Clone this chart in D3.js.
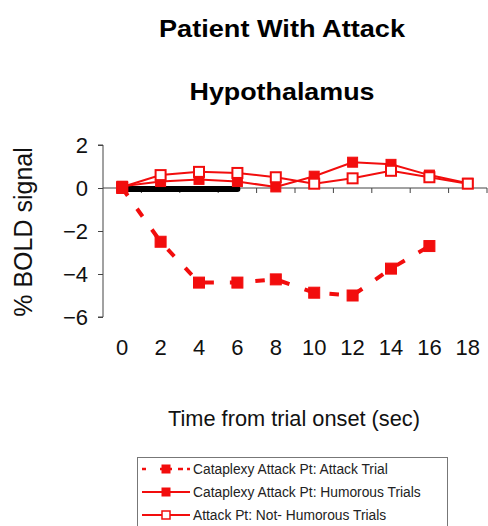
<!DOCTYPE html>
<html>
<head>
<meta charset="utf-8">
<script src="https://cdn.jsdelivr.net/npm/d3@7"></script>
<style>
html,body{margin:0;padding:0;background:#fff;}
svg{display:block;font-family:"Liberation Sans",Arial,sans-serif;}
</style>
</head>
<body>
<svg id="chart" width="488" height="526"></svg>
<script>
const categories = ["0","2","4","6","8","10","12","14","16","18"];
const attackTrial = [0, -2.5, -4.4, -4.4, -4.25, -4.87, -5.0, -3.75, -2.7, null];
const humorousTrials = [0.08, 0.3, 0.4, 0.3, 0.05, 0.55, 1.2, 1.1, 0.6, 0.22];
const notHumorousTrials = [0.05, 0.6, 0.75, 0.7, 0.5, 0.2, 0.45, 0.8, 0.5, 0.2];
const attackDuration = [0, 0, 0, 0];
const yTicks = [2, 0, -2, -4, -6];
const seriesNames = ["Cataplexy Attack Pt: Attack Trial", "Cataplexy Attack Pt: Humorous Trials", "Attack Pt: Not- Humorous Trials"];
const titleText = "Patient With Attack";
const subtitleText = "Hypothalamus";
const yLabel = "% BOLD signal";
const xLabel = "Time from trial onset (sec)";

const red = "#f20d0d";
const svg = d3.select("#chart");

const x = d3.scaleBand().domain(categories).range([103, 487]).padding(0);
const y = d3.scaleLinear().domain([-6, 2]).range([317, 145]);
const cx = c => x(c) + x.bandwidth() / 2;

// titles
svg.append("text").attr("x", 282).attr("y", 37).attr("text-anchor", "middle")
  .attr("font-size", 24).attr("font-weight", "bold").attr("textLength", 246).attr("lengthAdjust","spacingAndGlyphs").text(titleText);
svg.append("text").attr("x", 282).attr("y", 100).attr("text-anchor", "middle")
  .attr("font-size", 24).attr("font-weight", "bold").attr("textLength", 185).attr("lengthAdjust","spacingAndGlyphs").text(subtitleText);

// y axis
const yAxis = svg.append("g").attr("transform", "translate(103,0)")
  .call(d3.axisLeft(y).tickValues(yTicks).tickSize(5).tickPadding(10).tickFormat(d3.format("d")));
yAxis.select(".domain").attr("stroke", "#444").attr("d", `M-5,${y(2)}H0V${y(-6)}H-5`);
yAxis.selectAll(".tick line").attr("stroke", "#444");
yAxis.selectAll(".tick text").attr("font-size", 22).attr("fill", "#111").attr("font-family", "Liberation Sans, Arial, sans-serif");

// x axis line at 0 with boundary ticks
const xg = svg.append("g");
xg.append("line").attr("x1", 103).attr("x2", 487).attr("y1", y(0)).attr("y2", y(0)).attr("stroke", "#444");
const bounds = categories.slice(1).map(c => x(c)).concat([x.range()[1]]);
xg.selectAll("line.tk").data(bounds).join("line").attr("class", "tk")
  .attr("x1", d => d).attr("x2", d => d).attr("y1", y(0)).attr("y2", y(0) + 5).attr("stroke", "#444");
xg.selectAll("text.xl").data(categories).join("text").attr("class", "xl")
  .attr("x", d => cx(d)).attr("y", 355).attr("text-anchor", "middle").attr("font-size", 22).attr("fill", "#111").text(d => d);

// axis titles
svg.append("text").attr("transform", "translate(32,232) rotate(-90)").attr("text-anchor", "middle")
  .attr("font-size", 25).attr("fill", "#111").text(yLabel);
svg.append("text").attr("x", 294).attr("y", 426).attr("text-anchor", "middle")
  .attr("font-size", 22).attr("fill", "#111").attr("textLength", 252).attr("lengthAdjust","spacingAndGlyphs").text(xLabel);

// attack duration bar
const line = d3.line().defined(d => d.v != null).x(d => cx(d.c)).y(d => y(d.v));
const toPts = arr => arr.map((v, i) => ({c: categories[i], v}));
svg.append("path").datum(toPts(attackDuration)).attr("d", line)
  .attr("fill", "none").attr("stroke", "#000").attr("stroke-width", 6).attr("stroke-linecap", "round")
  .attr("transform", "translate(0,1)");

// series
function drawSeries(arr, opts) {
  const pts = toPts(arr);
  const sz = opts.sz;
  svg.append("path").datum(pts).attr("d", line).attr("fill", "none").attr("stroke", red)
    .attr("stroke-width", opts.w).attr("stroke-dasharray", opts.dash || null);
  svg.selectAll(null).data(pts.filter(d => d.v != null)).join("rect")
    .attr("x", d => cx(d.c) - sz / 2).attr("y", d => y(d.v) - sz / 2).attr("width", sz).attr("height", sz)
    .attr("fill", opts.open ? "#fff" : red).attr("stroke", red).attr("stroke-width", opts.open ? 2 : 1);
}
drawSeries(humorousTrials, {w: 2, sz: 10});
drawSeries(notHumorousTrials, {w: 2, open: true, sz: 10});
drawSeries(attackTrial, {w: 4, dash: "9.5,16", sz: 11});

// legend
const lg = svg.append("g");
lg.append("rect").attr("x", 137.5).attr("y", 457.5).attr("width", 310).attr("height", 90)
  .attr("fill", "#fff").attr("stroke", "#777").attr("stroke-width", 1);
const rows = [{dash: "4,14,12,6,5", open: false, w: 2.5}, {open: false, w: 2}, {open: true, w: 2}];
rows.forEach((r, i) => {
  const ly = 469 + i * 23;
  lg.append("line").attr("x1", 142).attr("x2", 190).attr("y1", ly).attr("y2", ly)
    .attr("stroke", red).attr("stroke-width", r.w).attr("stroke-dasharray", r.dash || null);
  lg.append("rect").attr("x", 166 - 4).attr("y", ly - 4).attr("width", 8).attr("height", 8)
    .attr("fill", r.open ? "#fff" : red).attr("stroke", red).attr("stroke-width", r.open ? 1.5 : 1);
  lg.append("text").attr("x", 193).attr("y", ly + 4.5).attr("font-size", 13.8).attr("fill", "#222").text(seriesNames[i]);
});
</script>
</body>
</html>
